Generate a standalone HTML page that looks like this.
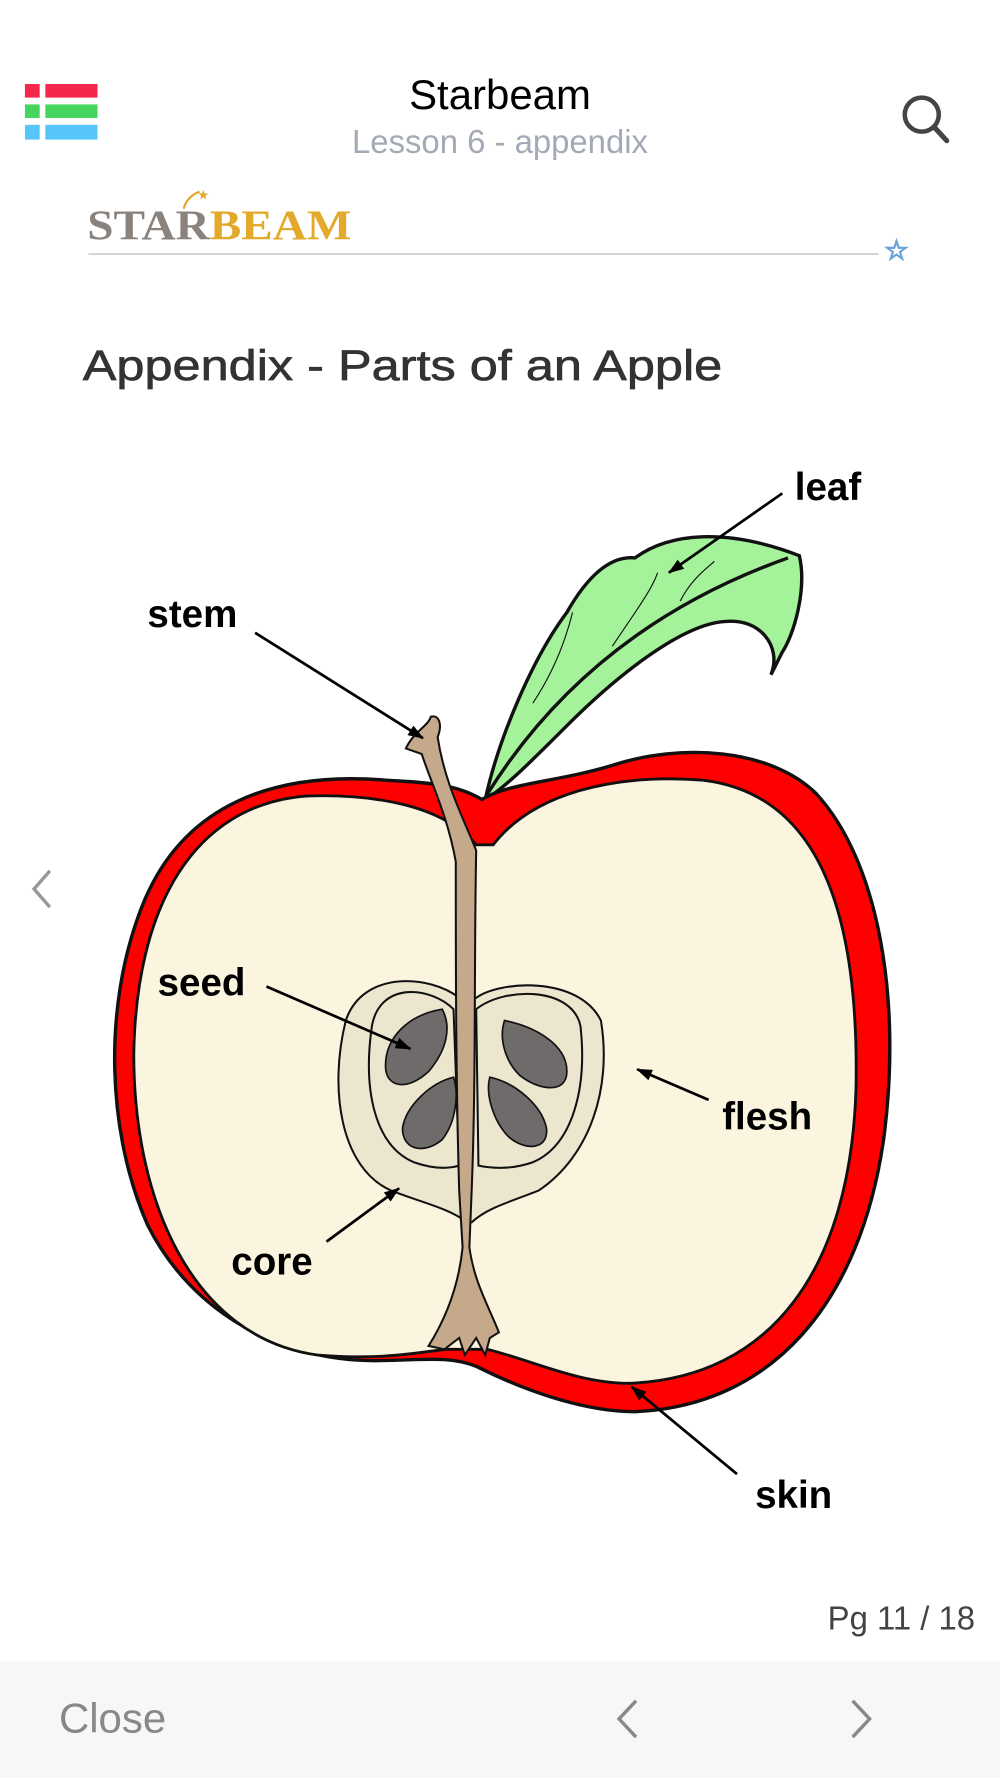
<!DOCTYPE html>
<html><head><meta charset="utf-8"><style>
html,body{margin:0;padding:0;background:#fff;width:1000px;height:1778px;overflow:hidden}
svg{display:block}
</style></head><body>
<svg width="1000" height="1778" viewBox="0 0 882 1568" xmlns="http://www.w3.org/2000/svg" font-family="Liberation Sans, sans-serif">
<defs><marker id="ah" markerWidth="14" markerHeight="10" refX="13" refY="5" orient="auto" markerUnits="userSpaceOnUse"><path d="M0,0 L14,5 L0,10 Z" fill="#000"/></marker></defs>
<!-- header -->
<rect x="22" y="74" width="13" height="12" fill="#f5284b"/><rect x="40" y="74" width="46" height="12" fill="#f5284b"/>
<rect x="22" y="92" width="13" height="12" fill="#45d45e"/><rect x="40" y="92" width="46" height="12" fill="#45d45e"/>
<rect x="22" y="110" width="13" height="13" fill="#56c6fa"/><rect x="40" y="110" width="46" height="13" fill="#56c6fa"/>
<text x="441" y="96" text-anchor="middle" font-size="37" fill="#000">Starbeam</text>
<text x="441" y="135" text-anchor="middle" font-size="29" fill="#a3a9b6">Lesson 6 - appendix</text>
<circle cx="813" cy="101" r="15" fill="none" stroke="#444" stroke-width="4"/>
<line x1="824" y1="112" x2="835" y2="124" stroke="#444" stroke-width="4.5" stroke-linecap="round"/>
<text x="77" y="211" font-family="Liberation Serif, serif" font-size="37" font-weight="bold" fill="#8a827d" textLength="233" lengthAdjust="spacingAndGlyphs">STAR<tspan fill="#e3a92a">BEAM</tspan></text>
<path d="M162,184 C164,176 170,171 176,169" stroke="#e3a92a" stroke-width="2" fill="none"/><text x="174" y="176" font-size="12" fill="#e3a92a">★</text>
<line x1="78" y1="224" x2="775" y2="224" stroke="#ccc" stroke-width="1.5"/>
<text x="780" y="229" font-size="24" fill="none" stroke="#6aa2d8" stroke-width="1.2">☆</text>
<text x="73" y="335" font-size="38" fill="#333" stroke="#333" stroke-width="0.6" textLength="564" lengthAdjust="spacingAndGlyphs">Appendix - Parts of an Apple</text>
<!-- left chevron -->
<polyline points="44,768 30,784 44,800" fill="none" stroke="#999" stroke-width="3"/>
<!-- leaf -->
<path d="M428,705 C440,650 470,580 500,540 C520,505 540,490 560,492 C590,470 640,465 705,490 C712,520 700,560 690,575 L680,595 C690,570 670,545 640,548 C600,550 540,600 500,640 C470,670 445,695 428,705 Z" fill="#a4f29a" stroke="#111" stroke-width="3"/>
<path d="M430,700 C480,620 560,540 695,492" fill="none" stroke="#111" stroke-width="3"/>
<path d="M470,620 C490,590 500,560 505,540 M540,570 C560,540 575,520 580,505 M600,530 C610,510 625,500 630,495" fill="none" stroke="#111" stroke-width="1"/>
<!-- apple -->
<path d="M425,705 C400,690 370,690 340,688 C240,680 160,710 125,800 C90,890 95,1000 130,1080 C170,1160 250,1200 330,1200 C370,1200 395,1195 420,1205 C470,1230 520,1245 560,1245 C680,1240 760,1150 780,1000 C795,880 775,760 720,700 C680,660 600,655 540,675 C490,690 450,690 425,705 Z" fill="#ff0000" stroke="#111" stroke-width="3"/>
<path d="M420,745 C390,710 330,700 270,702 C170,710 120,800 118,930 C118,1060 170,1180 280,1195 C340,1200 370,1192 395,1190 L430,1190 C470,1200 510,1220 555,1220 C680,1215 750,1120 755,960 C758,800 720,700 620,688 C540,682 470,700 435,745 Z" fill="#fbf5df" stroke="#111" stroke-width="2.5"/>
<!-- core -->
<path d="M405,880 C380,860 320,855 305,900 C290,960 300,1030 345,1050 C370,1060 395,1065 412,1078 L416,1078 C430,1065 450,1060 475,1050 C520,1020 540,960 530,900 C510,860 440,865 420,880 Z" fill="#ede6cf" stroke="#111" stroke-width="1.8"/>
<path d="M400,890 C380,870 335,865 328,905 C320,960 330,1010 365,1025 C385,1032 398,1030 405,1028 Z" fill="#ede6cf" stroke="#111" stroke-width="1.8"/>
<path d="M420,890 C445,870 505,870 512,905 C518,960 505,1010 470,1025 C450,1032 432,1030 422,1028 Z" fill="#ede6cf" stroke="#111" stroke-width="1.8"/>
<path d="M390,890 C360,895 340,915 340,940 C340,960 360,962 378,945 C395,925 398,905 390,890 Z" fill="#6f6b6b" stroke="#111" stroke-width="1.5"/>
<path d="M400,950 C380,955 358,975 355,995 C355,1015 375,1018 390,1005 C402,990 405,965 400,950 Z" fill="#6f6b6b" stroke="#111" stroke-width="1.5"/>
<path d="M445,900 C470,905 500,920 500,945 C500,965 475,962 458,948 C445,935 440,915 445,900 Z" fill="#6f6b6b" stroke="#111" stroke-width="1.5"/>
<path d="M432,950 C455,955 478,975 482,995 C484,1015 462,1015 448,1002 C435,988 428,965 432,950 Z" fill="#6f6b6b" stroke="#111" stroke-width="1.5"/>
<!-- stem -->
<path d="M358,660 C365,645 378,640 380,632 C388,630 390,640 386,650 C392,690 408,720 420,750 C418,850 420,950 416,1050 L414,1100 C418,1130 430,1150 440,1175 L432,1180 L428,1195 L420,1180 L410,1195 L405,1180 L392,1190 L378,1187 C395,1160 405,1130 408,1100 L405,1050 C402,950 402,850 402,760 C395,720 380,690 372,665 Z" fill="#c6a98a" stroke="#111" stroke-width="1.8"/>
<!-- labels -->
<g font-weight="bold" font-size="34" fill="#000">
<text x="701" y="441">leaf</text><text x="130" y="553">stem</text><text x="139" y="878">seed</text>
<text x="637" y="996">flesh</text><text x="204" y="1124">core</text><text x="666" y="1330">skin</text>
</g>
<g stroke="#000" stroke-width="2.4" marker-end="url(#ah)">
<line x1="690" y1="435" x2="590" y2="505"/><line x1="225" y1="558" x2="373" y2="651"/>
<line x1="235" y1="870" x2="362" y2="925"/><line x1="625" y1="970" x2="562" y2="943"/>
<line x1="288" y1="1095" x2="352" y2="1048"/><line x1="650" y1="1300" x2="557" y2="1223"/>
</g>
<text x="860" y="1437" text-anchor="end" font-size="29" fill="#444">Pg 11 / 18</text>
<rect x="0" y="1465" width="882" height="103" fill="#f7f7f7"/>
<text x="52" y="1528" font-size="37" fill="#888">Close</text>
<polyline points="561,1500 546,1516 561,1532" fill="none" stroke="#888" stroke-width="3"/>
<polyline points="752,1500 767,1516 752,1532" fill="none" stroke="#888" stroke-width="3"/>
</svg>
</body></html>
